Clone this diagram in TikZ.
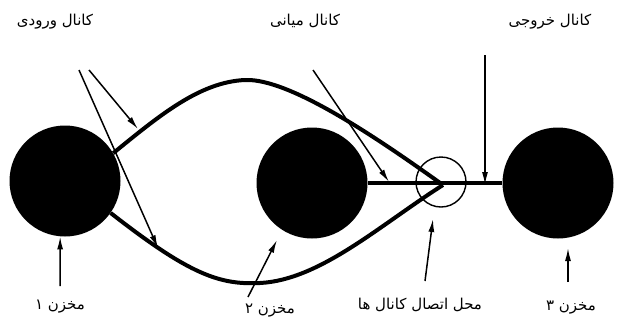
\documentclass[tikz,border=0pt]{standalone}
\usepackage{fontspec}
\usepackage{tikz}
\usetikzlibrary{positioning,arrows.meta,calc}
\TeXXeTstate=1
\newfontfamily\arabicfont[Script=Arabic]{DejaVu Sans}
\tikzset{
  tanknode/.style={circle, fill=black, minimum size=111pt, inner sep=0pt},
  joinnode/.style={circle, draw, line width=1.4pt, minimum size=50pt, inner sep=0pt},
  channel/.style={line width=4pt},
  pointarrow/.style={-{Latex[length=13pt,width=6pt]}, line width=1.5pt},
  faname/.style={font=\arabicfont\fontsize{15}{17}\selectfont, inner sep=1pt}
}
\begin{document}
\begin{tikzpicture}[x=1pt, y=-1pt]
  \useasboundingbox (0,0) rectangle (619,322);
  \clip (0,0) rectangle (619,322);
  % tanks and junction
  \node[tanknode] (t1) at (65,181) {};
  \node[tanknode] (t2) at (312,183) {};
  \node[tanknode] (t3) at (558,183) {};
  \node[joinnode] (jc) at (441,182) {};
  \coordinate (j) at (443,185);
  % channels
  \draw[channel] (t1.30) .. controls (160,115) and (200,82) .. (245,80)
                          .. controls (290,78) and (380,140) .. (j);
  \draw[channel] (t1.-35) .. controls (190,275) and (220,285) .. (260,283)
                           .. controls (320,280) and (380,225) .. (j);
  \draw[line width=3.5pt] (t2.east) -- (t3.west);
  % labels
  \node[faname] (inlbl) at (55,22) {\beginR کانال ورودی\endR};
  \node[faname] (midlbl) at (305,21) {\beginR کانال میانی\endR};
  \node[faname] (outlbl) at (550,22) {\beginR کانال خروجی\endR};
  \node[faname] (t1lbl) at (60,307) {\beginR مخزن ۱\endR};
  \node[faname] (t2lbl) at (270,311) {\beginR مخزن ۲\endR};
  \node[faname] (jlbl) at (420,305) {\beginR محل اتصال کانال ها\endR};
  \node[faname] (t3lbl) at (571,308) {\beginR مخزن ۳\endR};
  % pointer arrows
  \coordinate (ina) at (79,70);
  \coordinate (inb) at (89,70);
  \coordinate (mida) at (313,70);
  \coordinate (outa) at (485,55);
  \coordinate (t1a) at (60,286);
  \coordinate (t2a) at (248,297);
  \coordinate (ja) at (425,281);
  \coordinate (t3a) at (568,282);
  \draw[pointarrow] (ina) -- (158,248);
  \draw[pointarrow] (inb) -- (138,129);
  \draw[pointarrow] (mida) -- (389,182);
  \draw[pointarrow] (outa) -- (485,185);
  \draw[pointarrow] (t1a) -- (t1.-95);
  \draw[pointarrow] (t2a) -- (277,240);
  \draw[pointarrow] (ja) -- (433,219);
  \draw[pointarrow] (t3a) -- (568,248);
\end{tikzpicture}
\end{document}
